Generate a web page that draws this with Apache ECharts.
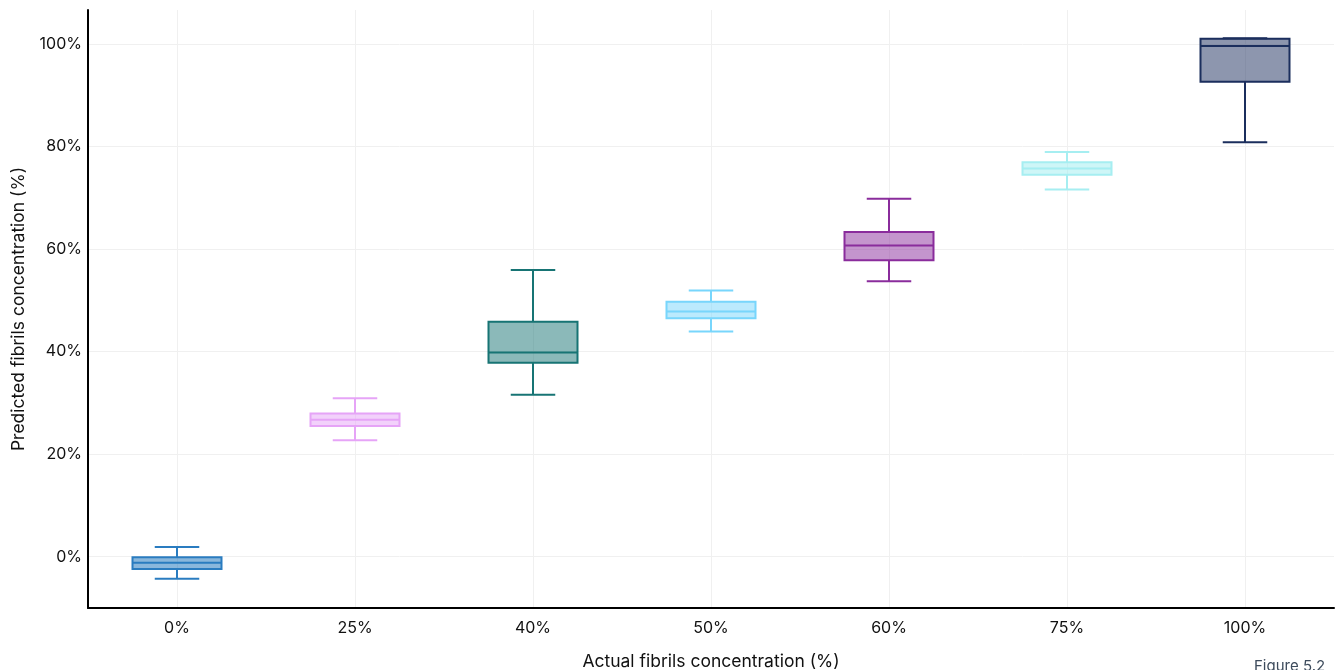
<!DOCTYPE html>
<html>
<head>
<meta charset="utf-8">
<script src="https://cdn.jsdelivr.net/npm/echarts@6/dist/echarts.min.js"></script>
<style>
html,body{margin:0;padding:0;background:#fff;}
#chart{width:1336px;height:670px;}
</style>
</head>
<body>
<div id="chart"></div>
<script>
const categories = ['0%', '25%', '40%', '50%', '60%', '75%', '100%'];
const lowWhisker = [-4.3, 22.7, 31.6, 43.9, 53.7, 71.6, 80.8];
const q1Values   = [-2.4, 25.5, 37.8, 46.5, 57.8, 74.5, 92.6];
const medians    = [-1.2, 26.7, 39.8, 47.8, 60.7, 75.7, 99.6];
const q3Values   = [-0.1, 27.9, 45.8, 49.7, 63.3, 76.9, 101.0];
const highWhisker= [1.9, 30.9, 55.9, 51.9, 69.8, 78.9, 101.1];
const yTicks = [0, 20, 40, 60, 80, 100];

const strokeColors = ['#2A7CC0', '#E6A4F7', '#177474', '#78D6FC', '#8A2C9C', '#A6EEF1', '#1B2E5D'];
const fillColors = ['rgba(42,124,192,0.55)', 'rgba(230,164,247,0.5)', 'rgba(23,116,116,0.5)',
  'rgba(120,214,252,0.5)', 'rgba(138,44,156,0.5)', 'rgba(166,238,241,0.55)', 'rgba(27,46,93,0.5)'];

const boxData = categories.map((c, i) => [i, lowWhisker[i], q1Values[i], medians[i], q3Values[i], highWhisker[i]]);

const chart = echarts.init(document.getElementById('chart'), null, {renderer: 'canvas'});
const FONT = 'Inter, "Noto Sans", sans-serif';

chart.setOption({
  animation: false,
  grid: {left: 88, right: 2, top: 10, bottom: 62, containLabel: false, outerBoundsMode: 'none'},
  xAxis: {
    type: 'category',
    data: categories,
    name: 'Actual fibrils concentration (%)',
    nameLocation: 'middle',
    nameGap: 45,
    nameTextStyle: {color: '#111', fontSize: 17.5, fontFamily: FONT},
    axisLine: {show: true, onZero: false, lineStyle: {color: '#000', width: 2}},
    axisTick: {show: false},
    axisLabel: {color: '#111', fontSize: 16, fontFamily: FONT, margin: 12},
    splitLine: {show: true, alignWithLabel: true, lineStyle: {color: '#f0f0f0', width: 1}}
  },
  yAxis: {
    type: 'value',
    min: -10,
    max: 106.6,
    splitNumber: 5,
    name: 'Predicted fibrils concentration (%)',
    nameLocation: 'middle',
    nameGap: 60,
    nameTextStyle: {color: '#111', fontSize: 17.5, fontFamily: FONT},
    axisLine: {show: true, onZero: false, lineStyle: {color: '#000', width: 2}},
    axisTick: {show: false},
    axisLabel: {
      color: '#111', fontSize: 16, fontFamily: FONT, margin: 6,
      formatter: v => (yTicks.indexOf(Math.round(v * 1000) / 1000) >= 0 ? v + '%' : '')
    },
    splitLine: {show: true, showMinLine: false, showMaxLine: false, lineStyle: {color: '#f0f0f0', width: 1}}
  },
  graphic: [{
    type: 'text', left: 1254, top: 659,
    style: {text: 'Figure 5.2', fill: '#3d4b5c', fontSize: 15, fontFamily: FONT}
  }],
  series: [{
    type: 'custom',
    data: boxData,
    encode: {x: 0, y: [1, 2, 3, 4, 5]},
    renderItem: function (params, api) {
      const idx = api.value(0);
      const band = api.size([1, 0])[0];
      const pLow = api.coord([idx, api.value(1)]);
      const pQ1 = api.coord([idx, api.value(2)]);
      const pMed = api.coord([idx, api.value(3)]);
      const pQ3 = api.coord([idx, api.value(4)]);
      const pHigh = api.coord([idx, api.value(5)]);
      const cx = pMed[0];
      const bw = band * 0.5, cw = band * 0.25;
      const stroke = strokeColors[idx];
      const ls = {stroke: stroke, lineWidth: 2};
      return {
        type: 'group',
        children: [
          {type: 'line', shape: {x1: cx, y1: pQ3[1], x2: cx, y2: pHigh[1]}, style: ls},
          {type: 'line', shape: {x1: cx, y1: pQ1[1], x2: cx, y2: pLow[1]}, style: ls},
          {type: 'line', shape: {x1: cx - cw / 2, y1: pHigh[1], x2: cx + cw / 2, y2: pHigh[1]}, style: ls},
          {type: 'line', shape: {x1: cx - cw / 2, y1: pLow[1], x2: cx + cw / 2, y2: pLow[1]}, style: ls},
          {type: 'rect', shape: {x: cx - bw / 2, y: pQ3[1], width: bw, height: pQ1[1] - pQ3[1]},
            style: {fill: fillColors[idx], stroke: stroke, lineWidth: 2}},
          {type: 'line', shape: {x1: cx - bw / 2, y1: pMed[1], x2: cx + bw / 2, y2: pMed[1]}, style: ls}
        ]
      };
    }
  }]
});
</script>
</body>
</html>
